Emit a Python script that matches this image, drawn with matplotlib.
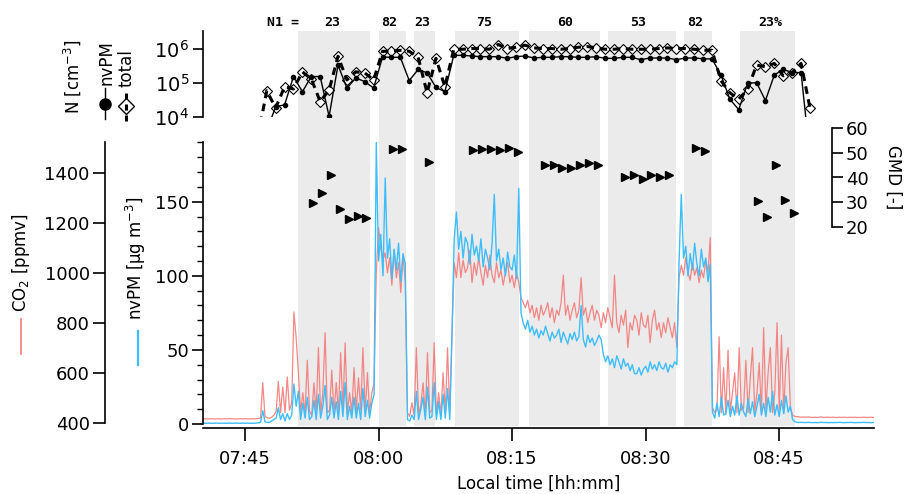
"""
Cabin CO2, nvPM mass and particle number during a flight sequence.
"""

import numpy as np
import matplotlib.pyplot as plt
from matplotlib.lines import Line2D
from matplotlib.ticker import MultipleLocator, NullLocator
from matplotlib.transforms import blended_transform_factory

plt.rcParams["font.family"] = ["DejaVu Sans"]
plt.rcParams["font.size"] = 12
plt.rcParams["mathtext.fontset"] = "dejavusans"

# time in minutes after 07:00
x_ticks = [45, 60, 75, 90, 105]
x_tick_labels = ["07:45", "08:00", "08:15", "08:30", "08:45"]

spans = [(51.0, 59.0), (60.1, 63.1), (64.0, 66.3), (68.6, 75.8),
         (76.9, 84.9), (85.8, 93.4), (94.3, 97.5), (100.6, 106.8)]
n1_labels = ["23", "82", "23", "75", "60", "53", "82", "23%"]
n1_label_x = [54.8, 61.2, 64.9, 71.9, 80.9, 89.1, 95.5, 104.0]

# particle number, one sample per minute (log10 of cm^-3)
n_time = 46.45 + np.arange(63)
total_log = [3.40, 4.77, 4.26, 4.89, 4.82, 5.33, 5.12, 4.45, 4.79, 5.79,
             5.09, 5.33, 5.30, 5.09, 5.94, 5.94, 5.97, 5.94, 5.76, 4.71,
             5.73, 4.89, 6.00, 6.00, 6.02, 6.02, 6.00, 6.14, 6.02, 6.06,
             6.12, 6.04, 6.02, 6.02, 6.00, 6.02, 6.06, 6.08, 6.04, 6.00,
             6.00, 6.02, 6.00, 6.00, 6.00, 6.02, 6.04, 6.02, 6.02, 6.00,
             5.97, 5.97, 5.07, 4.71, 4.52, 4.81, 5.53, 5.48, 5.58, 5.21,
             5.31, 5.58, 4.26]
nvpm_log = [np.nan, 3.58, 4.30, 4.35, 5.19, 4.74, 5.19, 5.19, 4.01, 5.53,
            4.85, 5.15, 5.04, 4.85, 5.77, 5.76, 5.76, 5.07, 5.40, 5.30,
            4.87, 4.74, 5.82, 5.82, 5.80, 5.78, 5.78, 5.78, 5.73, 5.78,
            5.80, 5.74, 5.76, 5.76, 5.78, 5.78, 5.76, 5.76, 5.78, 5.73,
            5.73, 5.76, 5.76, 5.69, 5.74, 5.74, 5.74, 5.69, 5.74, 5.74,
            5.72, 5.71, 5.24, 4.52, 4.21, 4.99, 5.01, 4.48, 5.24, 5.40,
            5.31, 5.31, 2.80]

# geometric mean diameter
gmd_time = [52.65, 53.65, 54.65, 55.65, 56.65, 57.65, 58.65,
            61.65, 62.65, 65.65,
            70.65, 71.65, 72.65, 73.65, 74.65, 75.65,
            78.65, 79.65, 80.65, 81.65, 82.65, 83.65, 84.65,
            87.65, 88.65, 89.65, 90.65, 91.65, 92.65,
            95.65, 96.65,
            102.65, 103.65, 104.65, 105.65, 106.65]
gmd_value = [29.6, 33.9, 41.0, 27.4, 23.4, 24.4, 23.6,
             51.4, 51.4, 46.3,
             51.1, 51.6, 51.6, 51.1, 51.9, 50.3,
             44.9, 45.2, 43.8, 43.8, 45.2, 45.7, 45.2,
             40.3, 41.1, 39.5, 41.1, 40.3, 41.1,
             51.9, 50.6,
             30.6, 24.2, 45.2, 30.9, 25.5]

# CO2 [ppmv], 15 s samples, one row per minute from 07:40
co2_rows = [
    [416, 415, 416, 415], [415, 416, 415, 415], [416, 415, 415, 416],
    [415, 416, 416, 415], [415, 415, 416, 415], [416, 415, 415, 416],
    [415, 416, 417, 418], [560, 425, 420, 418], [422, 430, 445, 565],
    [440, 543, 440, 583], [450, 480, 843, 740], [600, 440, 520, 435],
    [650, 445, 430, 560], [440, 700, 435, 520], [760, 440, 450, 610],
    [435, 560, 440, 680], [450, 720, 440, 520], [440, 620, 445, 580],
    [450, 700, 440, 600], [440, 520, 560, 1000], [1180, 1100, 1050, 1080],
    [1000, 1060, 950, 1090], [980, 1040, 920, 1070], [960, 440, 425, 480],
    [430, 700, 435, 470], [560, 430, 680, 440], [450, 720, 435, 520],
    [430, 600, 440, 700], [440, 760, 1040, 980], [1080, 980, 1050, 1000],
    [1020, 1090, 960, 1040], [990, 1060, 1000, 950], [1030, 980, 1070, 990],
    [960, 1040, 980, 1010], [950, 1000, 1040, 960], [990, 940, 1000, 960],
    [900, 880, 860, 890], [840, 870, 820, 860], [810, 870, 830, 850],
    [880, 820, 860, 800], [850, 830, 880, 990], [830, 870, 810, 850],
    [880, 820, 850, 980], [830, 860, 800, 840], [870, 810, 850, 830],
    [780, 840, 800, 860], [820, 780, 990, 800], [760, 830, 790, 850],
    [700, 800, 770, 830], [810, 750, 840, 790], [780, 830, 720, 810],
    [850, 770, 800, 740], [800, 760, 820, 780], [740, 800, 700, 980],
    [1030, 990, 1060, 1000], [970, 1040, 990, 1020], [960, 1010, 980, 1050],
    [1000, 1140, 460, 440], [450, 744, 440, 620], [435, 690, 445, 520],
    [600, 440, 700, 450], [460, 650, 440, 580], [700, 445, 520, 640],
    [440, 780, 450, 600], [700, 440, 520, 800], [450, 750, 440, 640],
    [700, 460, 430, 425], [424, 423, 422, 423], [422, 423, 422, 421],
    [422, 421, 422, 423], [421, 422, 422, 421], [422, 421, 421, 422],
    [421, 422, 421, 421], [422, 421, 422, 421], [421, 421, 422, 421],
    [421, 422, 421, 421],
]

# nvPM mass [ug m-3], same samples
nvpm_rows = [
    [0.5, 0.6, 0.5, 0.5], [0.6, 0.5, 0.5, 0.6], [0.5, 0.5, 0.6, 0.5],
    [0.5, 0.6, 0.5, 0.5], [0.6, 0.5, 0.5, 0.6], [0.5, 0.6, 0.5, 0.5],
    [0.5, 0.6, 0.8, 1.0], [9.0, 1.5, 1.0, 1.2], [2.0, 3.0, 4.0, 11],
    [3.0, 7.0, 2.0, 7.0], [3.0, 6.0, 27, 12], [22, 3.0, 14, 4.0],
    [18, 3.0, 5.0, 16], [3.0, 20, 4.0, 12], [26, 3.0, 6.0, 18],
    [4.0, 15, 3.0, 22], [5.0, 28, 3.0, 12], [4.0, 18, 4.0, 14],
    [3.0, 24, 5.0, 16], [4.0, 14, 20, 190], [110, 128, 100, 166],
    [112, 125, 98, 118], [104, 122, 96, 115], [108, 3.0, 2.0, 6.0],
    [3.0, 22, 3.0, 10], [18, 3.0, 25, 4.0], [5.0, 28, 3.0, 15],
    [3.0, 20, 4.0, 24], [3.0, 60, 125, 143], [118, 130, 112, 126],
    [122, 108, 128, 114], [120, 110, 125, 106], [118, 112, 104, 122],
    [155, 110, 118, 104], [112, 100, 116, 106], [104, 114, 98, 159],
    [75, 68, 64, 70], [62, 66, 60, 64], [58, 63, 60, 66],
    [61, 56, 62, 58], [60, 64, 55, 62], [58, 54, 61, 57],
    [62, 56, 59, 80], [57, 52, 60, 55], [58, 53, 56, 60],
    [57, 47, 42, 46], [40, 44, 38, 46], [42, 37, 44, 39],
    [41, 36, 40, 34], [34, 38, 33, 37], [39, 35, 42, 37],
    [40, 36, 42, 38], [37, 41, 35, 40], [38, 42, 40, 110],
    [155, 112, 120, 100], [115, 104, 122, 108], [100, 118, 106, 112],
    [96, 108, 8.0, 4.0], [14, 5.0, 18, 6.0], [7.0, 16, 5.0, 12],
    [6.0, 19, 6.0, 14], [8.0, 5.0, 17, 7.0], [15, 5.0, 12, 20],
    [6.0, 14, 5.0, 18], [8.0, 22, 6.0, 13], [5.0, 16, 7.0, 19],
    [8.0, 12, 3.0, 1.5], [1.2, 1.0, 1.1, 1.0], [1.0, 1.1, 1.0, 0.9],
    [1.0, 0.9, 1.0, 1.1], [1.0, 1.0, 0.9, 1.0], [0.9, 1.0, 1.0, 1.1],
    [1.0, 0.9, 1.0, 1.0], [1.1, 1.0, 0.9, 1.0], [1.0, 1.0, 1.1, 1.0],
    [1.0, 0.9, 1.0, 1.0],
]

co2 = np.array(co2_rows, dtype=float).ravel()
nvpm = np.array(nvpm_rows, dtype=float).ravel()
t_conc = 40 + 0.25 * np.arange(co2.size)

RED = "#f47a7a"
BLUE = "#3ebdfb"
GREY = "#ebebeb"
XLIM = (40.29, 115.64)
W, H = 906, 494


def box(x0, y0, x1, y1):
    return [x0 / W, 1 - y1 / H, (x1 - x0) / W, (y1 - y0) / H]


def fx(px):
    return px / W


def fy(py):
    return 1 - py / H


fig = plt.figure(figsize=(9.06, 4.94), dpi=100)

# shaded periods behind everything
bg = fig.add_axes(box(203, 30.7, 874, 426))
bg.set_xlim(XLIM)
bg.axis("off")
for a, b in spans:
    bg.axvspan(a, b, color=GREY, lw=0)

# CO2 on the far left axis
ax_co2 = fig.add_axes(box(203, 141.7, 874, 428))
ax_co2.patch.set_visible(False)
ax_co2.plot(t_conc, co2, color=RED, lw=0.9, alpha=0.9)
ax_co2.set_xlim(XLIM)
ax_co2.set_ylim(378.8, 1524)
for side in ["top", "right", "bottom"]:
    ax_co2.spines[side].set_visible(False)
ax_co2.spines["left"].set_position(("axes", -0.146))
ax_co2.spines["left"].set_bounds(400, 1524)
ax_co2.spines["left"].set_linewidth(1.2)
ax_co2.set_yticks([400, 600, 800, 1000, 1200, 1400])
ax_co2.set_xticks([])
ax_co2.tick_params(axis="y", direction="out", length=9, width=1.2,
                   pad=2, labelsize=13)

# nvPM mass, carries the time axis
ax_pm = fig.add_axes(box(203, 141.7, 874, 428))
ax_pm.patch.set_visible(False)
ax_pm.plot(t_conc, nvpm, color=BLUE, lw=1.0)
ax_pm.set_xlim(XLIM)
ax_pm.set_ylim(-2.7, 190.5)
for side in ["top", "right"]:
    ax_pm.spines[side].set_visible(False)
ax_pm.spines["left"].set_bounds(0, 190.5)
ax_pm.spines["left"].set_linewidth(1.2)
ax_pm.spines["bottom"].set_linewidth(1.2)
ax_pm.set_yticks([0, 50, 100, 150])
ax_pm.yaxis.set_minor_locator(MultipleLocator(10))
ax_pm.set_xticks(x_ticks, x_tick_labels)
ax_pm.tick_params(axis="y", which="major", direction="out", length=8,
                  width=1.2, pad=2, labelsize=13)
ax_pm.tick_params(axis="y", which="minor", direction="out", length=4,
                  width=1.0)
ax_pm.tick_params(axis="x", direction="out", length=9, width=1.2,
                  pad=7, labelsize=13)

# GMD markers on the short right axis
ax_gmd = fig.add_axes(box(203, 128, 874, 227))
ax_gmd.patch.set_visible(False)
ax_gmd.plot(gmd_time, gmd_value, ls="none", marker=">", ms=6,
            color="black", clip_on=False)
ax_gmd.set_xlim(XLIM)
ax_gmd.set_ylim(20, 60)
for side in ["top", "left", "bottom"]:
    ax_gmd.spines[side].set_visible(False)
ax_gmd.spines["right"].set_position(("axes", (832 - 203) / (874 - 203)))
ax_gmd.spines["right"].set_linewidth(1.2)
ax_gmd.yaxis.tick_right()
ax_gmd.set_yticks([20, 30, 40, 50, 60])
ax_gmd.set_xticks([])
ax_gmd.tick_params(axis="y", direction="out", length=8, width=1.2,
                   pad=2, labelsize=13)

# particle number panel
ax_n = fig.add_axes(box(203, 30.7, 874, 116.7))
ax_n.patch.set_visible(False)
total = 10 ** np.array(total_log)
nvpm_n = 10 ** np.array(nvpm_log)
ax_n.plot(n_time, total, ls="none", marker="D", ms=5.5, mfc="white",
          mec="black", mew=0.8, zorder=2)
ax_n.plot(n_time, total, color="black", lw=2.2, ls=(0, (2.5, 1.8)),
          zorder=3)
ax_n.plot(n_time, nvpm_n, color="black", lw=1.0, marker="o", ms=3,
          zorder=4)
ax_n.set_yscale("log")
ax_n.set_xlim(XLIM)
ax_n.set_ylim(1e4, 10 ** 6.55)
for side in ["top", "right", "bottom"]:
    ax_n.spines[side].set_visible(False)
ax_n.spines["left"].set_linewidth(1.2)
ax_n.set_yticks([1e4, 1e5, 1e6])
ax_n.yaxis.set_minor_locator(NullLocator())
ax_n.set_xticks([])
ax_n.tick_params(axis="y", direction="out", length=7, width=1.2,
                 pad=3, labelsize=14)

# N1 share above each period
trans = blended_transform_factory(ax_n.transData, fig.transFigure)
ax_n.text(49.25, fy(23), "N1 =", transform=trans, ha="center",
          va="center", family="DejaVu Sans Mono", weight="bold",
          fontsize=9.5)
for xpos, lab in zip(n1_label_x, n1_labels):
    ax_n.text(xpos, fy(23), lab, transform=trans, ha="center",
              va="center", family="DejaVu Sans Mono", weight="bold",
              fontsize=9.5)

# axis titles with their line keys
fig.text(fx(21.5), fy(263), "CO$_2$ [ppmv]", rotation=90,
         ha="center", va="center", fontsize=12)
fig.add_artist(Line2D([fx(20.7)] * 2, [fy(319), fy(354)],
                      color=RED, lw=1.2, transform=fig.transFigure))
fig.text(fx(136), fy(258), "nvPM [µg m$^{-3}$]", rotation=90,
         ha="center", va="center", fontsize=12)
fig.add_artist(Line2D([fx(138)] * 2, [fy(331), fy(365)],
                      color=BLUE, lw=1.6, transform=fig.transFigure))
fig.text(fx(72), fy(77), "N [cm$^{-3}$]", rotation=90,
         ha="center", va="center", fontsize=12)
fig.text(fx(893), fy(177), "GMD [-]", rotation=270,
         ha="center", va="center", fontsize=12)
fig.text(fx(538.5), fy(484), "Local time [hh:mm]",
         ha="center", va="center", fontsize=12)

# rotated legend of the number panel
fig.add_artist(Line2D([fx(105)] * 2, [fy(88), fy(119)], color="black",
                      lw=1.0, transform=fig.transFigure))
fig.add_artist(Line2D([fx(105)], [fy(104)], color="black", marker="o",
                      ms=8, ls="none", transform=fig.transFigure))
fig.text(fx(106.5), fy(85), "nvPM", rotation=90, ha="center",
         va="bottom", fontsize=12)
fig.add_artist(Line2D([fx(126.5)], [fy(106)], marker="D", ms=8,
                      mfc="white", mec="black", mew=1.0, ls="none",
                      transform=fig.transFigure))
fig.add_artist(Line2D([fx(126.5)] * 2, [fy(93), fy(121)], color="black",
                      lw=2.2, ls=(0, (2.0, 1.6)),
                      transform=fig.transFigure))
fig.text(fx(126.5), fy(87), "total", rotation=90, ha="center",
         va="bottom", fontsize=12)

fig.savefig("out.png", dpi=100)
plt.close(fig)
